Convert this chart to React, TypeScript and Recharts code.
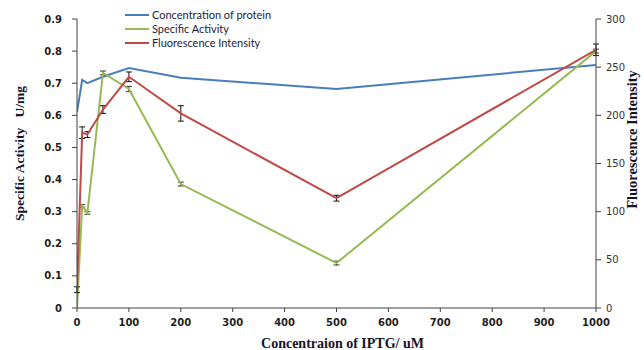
import React from "react"
import {
  ComposedChart,
  Line,
  XAxis,
  YAxis,
  ErrorBar,
  Label
} from "recharts"

// ── Data ──────────────────────────────────────────────────────────────────────

const IPTG = [0, 10, 20, 50, 100, 200, 500, 1000]
const PROTEIN = [0.61, 0.71, 0.7, 0.72, 0.747, 0.717, 0.682, 0.757]
const ACTIVITY = [0, 0.318, 0.296, 0.732, 0.682, 0.386, 0.14, 0.8]
const ACTIVITY_ERR = [0, 0.004, 0.004, 0.006, 0.008, 0.006, 0.006, 0.006]
const FLUOR = [19, 182, 180, 206, 240, 202, 114, 268]
const FLUOR_ERR = [3, 6, 3, 4, 5, 8, 3, 6]

const X_TICKS = [0, 100, 200, 300, 400, 500, 600, 700, 800, 900, 1000]
const LEFT_TICKS = [0, 0.1, 0.2, 0.3, 0.4, 0.5, 0.6, 0.7, 0.8, 0.9]
const RIGHT_TICKS = [0, 50, 100, 150, 200, 250, 300]

const data = IPTG.map((x, i) => ({
  x,
  protein: PROTEIN[i],
  activity: ACTIVITY[i],
  activityErr: ACTIVITY_ERR[i],
  fluor: FLUOR[i],
  fluorErr: FLUOR_ERR[i]
}))

// ── Styling ───────────────────────────────────────────────────────────────────

const COLORS = {
  protein: "#4a7ebb",
  activity: "#98b954",
  fluor: "#be4b48",
  axis: "#404040",
  text: "#1f1f1f"
}

const SERIES = [
  { key: "protein", name: "Concentration of protein", color: COLORS.protein },
  { key: "activity", name: "Specific Activity", color: COLORS.activity },
  { key: "fluor", name: "Fluorescence Intensity", color: COLORS.fluor }
]

const BOLD_TICK = {
  fill: COLORS.text,
  fontSize: 10,
  fontWeight: 700,
  fontFamily: "DejaVu Sans, sans-serif"
}

const TITLE_STYLE = {
  fontFamily: "Liberation Serif, serif",
  fontWeight: 700,
  fontSize: 14,
  fill: "#141428"
}

// rotated axis title, placed relative to the axis viewBox
const VerticalTitle = ({ viewBox, text, fromLeft, shiftY, size }: any) => {
  const x = viewBox.x + fromLeft
  const y = viewBox.y + viewBox.height / 2 + shiftY
  return (
    <text
      x={x}
      y={y}
      transform={`rotate(-90, ${x}, ${y})`}
      textAnchor="middle"
      dominantBaseline="central"
      style={{ ...TITLE_STYLE, fontSize: size, whiteSpace: "pre" }}
    >
      {text}
    </text>
  )
}

// legend sits over the plot, outside recharts' layout so it doesn't shift the axes
const LegendBox = () => (
  <div
    style={{
      position: "absolute",
      left: 125,
      top: 8,
      fontFamily: "Lato, sans-serif",
      fontSize: 11,
      color: "#1c2340",
      lineHeight: "14px"
    }}
  >
    {SERIES.map(s => (
      <div key={s.key} style={{ display: "flex", alignItems: "center" }}>
        <span
          style={{ display: "inline-block", width: 24, height: 2, background: s.color, marginRight: 3 }}
        />
        <span>{s.name}</span>
      </div>
    ))}
  </div>
)

export default function App() {
  return (
    <div style={{ position: "absolute", left: 0, top: 0, width: 644, height: 350, background: "#fff" }}>
      <ComposedChart
        width={644}
        height={350}
        data={data}
        margin={{ top: 19, right: 0, bottom: 0, left: 0 }}
      >
        <XAxis
          dataKey="x"
          type="number"
          domain={[0, 1000]}
          ticks={X_TICKS}
          tick={BOLD_TICK}
          tickSize={4}
          tickMargin={7}
          height={42}
          stroke={COLORS.axis}
          allowDataOverflow
        >
          <Label
            value="Concentraion of IPTG/ uM"
            position="insideBottom"
            offset={2}
            dx={6}
            style={TITLE_STYLE}
          />
        </XAxis>
        <YAxis
          yAxisId="left"
          domain={[0, 0.9]}
          ticks={LEFT_TICKS}
          tickFormatter={(v: number) => (v === 0 ? "0" : v.toFixed(1))}
          tick={BOLD_TICK}
          tickSize={5}
          tickMargin={10}
          width={77}
          stroke={COLORS.axis}
          allowDataOverflow
        >
          <Label
            content={(p: any) => (
              <VerticalTitle
                viewBox={p.viewBox}
                text={"Specific Activity\u00a0\u00a0\u00a0U/mg"}
                fromLeft={19}
                shiftY={-10}
                size={13.5}
              />
            )}
          />
        </YAxis>
        <YAxis
          yAxisId="right"
          orientation="right"
          domain={[0, 300]}
          ticks={RIGHT_TICKS}
          tick={{ fill: "#333", fontSize: 10, fontFamily: "DejaVu Sans, sans-serif" }}
          tickSize={5}
          tickMargin={5}
          width={48}
          stroke={COLORS.axis}
        >
          <Label
            content={(p: any) => (
              <VerticalTitle
                viewBox={p.viewBox}
                text="Fluorescence Intensity"
                fromLeft={36}
                shiftY={-24}
                size={14.5}
              />
            )}
          />
        </YAxis>
        <Line
          yAxisId="left"
          dataKey="protein"
          name="Concentration of protein"
          stroke={COLORS.protein}
          strokeWidth={2}
          dot={false}
          isAnimationActive={false}
        />
        <Line
          yAxisId="left"
          dataKey="activity"
          name="Specific Activity"
          stroke={COLORS.activity}
          strokeWidth={2}
          dot={false}
          isAnimationActive={false}
        >
          <ErrorBar dataKey="activityErr" direction="y" width={3} stroke="#333" strokeWidth={1} isAnimationActive={false} />
        </Line>
        <Line
          yAxisId="right"
          dataKey="fluor"
          name="Fluorescence Intensity"
          stroke={COLORS.fluor}
          strokeWidth={2}
          dot={false}
          isAnimationActive={false}
        >
          <ErrorBar dataKey="fluorErr" direction="y" width={3} stroke="#111" strokeWidth={1} isAnimationActive={false} />
        </Line>
      </ComposedChart>
      <LegendBox />
    </div>
  )
}
